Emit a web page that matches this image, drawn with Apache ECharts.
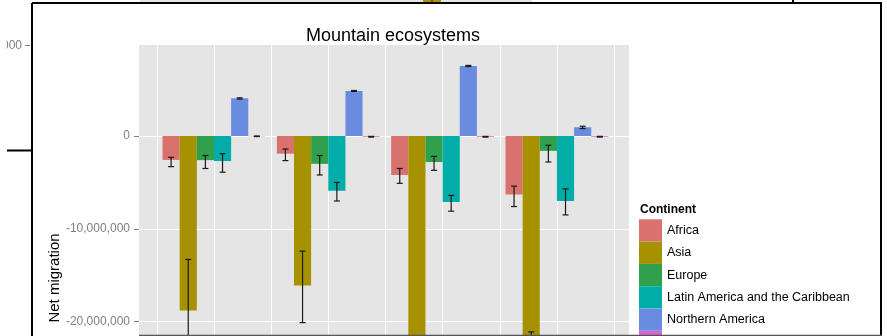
<!DOCTYPE html>
<html><head><meta charset="utf-8">
<script src="https://cdn.jsdelivr.net/npm/echarts@6/dist/echarts.min.js"></script>
<style>html,body{margin:0;padding:0;background:#fff}#c{width:887px;height:336px}</style>
</head><body><div id="c"></div>
<script>
// ---- data ----
const categories = ['1970-1980', '1980-1990', '1990-2000', '2000-2010'];
const continents = ['Africa', 'Asia', 'Europe', 'Latin America and the Caribbean', 'Northern America', 'Oceania'];
const colors = ['#D9726F', '#A69200', '#2FA04C', '#02ACA8', '#6A8CE0', '#D466CF'];

const africa   = [-2580000, -1900000, -4200000, -6300000];
const asia     = [-18800000, -16100000, -27000000, -25000000];
const europe   = [-2600000, -3000000, -2800000, -1600000];
const latam    = [-2700000, -5900000, -7100000, -7000000];
const namerica = [4060000, 4850000, 7540000, 940000];
const oceania  = [-30000, -80000, -80000, -80000];

// error bars: [low, high]
const africaErr   = [[-3300000, -2300000], [-2650000, -1400000], [-5100000, -3500000], [-7600000, -5400000]];
const asiaErr     = [[-24300000, -13300000], [-20100000, -12400000], [-31000000, -23000000], [-28900000, -21100000]];
const europeErr   = [[-3500000, -2100000], [-4200000, -2100000], [-3700000, -2200000], [-2800000, -1000000]];
const latamErr    = [[-3900000, -1900000], [-7000000, -5000000], [-8100000, -6400000], [-8500000, -5700000]];
const namericaErr = [[3980000, 4110000], [4800000, 4900000], [7480000, 7600000], [800000, 1050000]];
const oceaniaErr  = [[-60000, 0], [-120000, -40000], [-120000, -40000], [-120000, -40000]];

const yTicks = [-20000000, -10000000, 0];
const gridLines8 = ['', '', '', '', '', '', '', ''];

const values = [africa, asia, europe, latam, namerica, oceania];
const errs = [africaErr, asiaErr, europeErr, latamErr, namericaErr, oceaniaErr];

// ---- chart ----
const chart = echarts.init(document.getElementById('c'), null, {renderer: 'canvas'});
const FONT = '"Liberation Sans", Arial, sans-serif';
const yMin = -25000000, yMax = 9800000;
const gTop = 45, gHeight = 323.1;

function fmt(v) {
  if (v === 0) return '0';
  const s = Math.abs(v).toString().replace(/\B(?=(\d{3})+(?!\d))/g, ',');
  return (v < 0 ? '-' : '') + s;
}

const series = [];
continents.forEach((name, i) => {
  series.push({
    name: name, type: 'bar', xAxisIndex: 1, yAxisIndex: 1,
    data: values[i], barGap: '0%', barCategoryGap: '10%',
    itemStyle: {color: colors[i]}, z: 2
  });
});
continents.forEach((name, i) => {
  series.push({
    name: name + ' error', type: 'custom', xAxisIndex: 1, yAxisIndex: 1, z: 3,
    data: errs[i].map((e, k) => [k, e[0], e[1]]),
    encode: {x: 0, y: [1, 2]},
    renderItem: function (params, api) {
      const cat = api.value(0), lo = api.value(1), hi = api.value(2);
      const band = api.size([1, 0])[0];
      const bw = band * 0.9 / 6;
      const off = (i - 2.5) * bw;
      const pLo = api.coord([cat, lo]), pHi = api.coord([cat, hi]);
      const x = pLo[0] + off, hw = 3;
      const st = {stroke: '#1a1a1a', lineWidth: 1.2};
      return {type: 'group', children: [
        {type: 'line', shape: {x1: x, y1: pLo[1], x2: x, y2: pHi[1]}, style: st},
        {type: 'line', shape: {x1: x - hw, y1: pLo[1], x2: x + hw, y2: pLo[1]}, style: st},
        {type: 'line', shape: {x1: x - hw, y1: pHi[1], x2: x + hw, y2: pHi[1]}, style: st}
      ]};
    }
  });
});

const L = (x1, y1, x2, y2, c, w) => ({type: 'line', z: 100, shape: {x1, y1, x2, y2}, style: {stroke: c || '#000', lineWidth: w || 2}});

const option = {
  animation: false,
  backgroundColor: '#fff',
  title: [
    {text: 'Mountain ecosystems', left: 388, top: 22, textAlign: 'center',
     textStyle: {fontFamily: FONT, fontSize: 18, fontWeight: 'normal', color: '#000'}},
    {text: 'Continent', left: 640, top: 204,
     textStyle: {fontFamily: FONT, fontSize: 12, fontWeight: 'bold', color: '#000'}, padding: 0}
  ],
  legend: {
    data: continents, orient: 'vertical', left: 639, top: 219.3, height: 200,
    itemWidth: 23, itemHeight: 22.3, itemGap: 0, padding: 0, icon: 'rect',
    textStyle: {fontFamily: FONT, fontSize: 12.5, color: '#000'}
  },
  grid: [
    {left: 139, width: 490, top: gTop, height: gHeight, show: true, backgroundColor: '#E5E5E5', borderWidth: 0,
     outerBoundsMode: 'none', containLabel: false},
    {left: 156.8, width: 457.3, top: gTop, height: gHeight, outerBoundsMode: 'none', containLabel: false}
  ],
  xAxis: [
    {gridIndex: 0, type: 'value', min: 0, max: 1, show: false},
    {gridIndex: 1, type: 'category', data: categories, axisLine: {show: false}, axisTick: {show: false},
     axisLabel: {show: false}, splitLine: {show: false}},
    {gridIndex: 1, type: 'category', data: gridLines8, axisLine: {show: false}, axisTick: {show: false},
     axisLabel: {show: false}, splitLine: {show: true, interval: 0, lineStyle: {color: '#FFFFFF', width: 1}}}
  ],
  yAxis: [
    {gridIndex: 0, type: 'value', min: yMin, max: yMax, interval: 5000000,
     axisLine: {show: false},
     axisTick: {show: true, length: 5, customValues: yTicks, lineStyle: {color: '#7F7F7F'}},
     axisLabel: {customValues: yTicks, formatter: fmt, margin: 9, color: '#7F7F7F', fontSize: 12, fontFamily: FONT},
     splitLine: {show: true, lineStyle: {color: '#FFFFFF', width: 1}}},
    {gridIndex: 1, type: 'value', min: yMin, max: yMax, show: false, splitLine: {show: false}}
  ],
  series: series,
  graphic: [
    {type: 'text', z: 100, x: 55, y: 278, rotation: Math.PI / 2,
     style: {text: 'Net migration', fontFamily: FONT, fontSize: 15, fill: '#000', align: 'center', verticalAlign: 'middle'}},
    // frame of the surrounding screenshot
    {type: 'rect', z: 99, shape: {x: 140, y: 0, width: 392, height: 2}, style: {fill: '#E5E5E5'}},
    {type: 'rect', z: 99, shape: {x: 423, y: 0, width: 18, height: 2}, style: {fill: '#A69200'}},
    L(432, 0, 432, 2, '#222', 1),
    L(32, 3, 882, 3),
    L(32, 3, 32, 336),
    L(881, 3, 881, 336),
    L(7, 150.5, 32, 150.5),
    L(793, 0, 793, 3),
    L(139, 335.5, 882, 335.5, '#555', 1.5),
    L(25, 45.5, 30, 45.5, '#7F7F7F', 1),
    {type: 'text', z: 100, x: 22, y: 45.5,
     style: {text: '10,000,000', fontFamily: FONT, fontSize: 12, fill: '#7F7F7F', align: 'right', verticalAlign: 'middle'}},
    {type: 'rect', z: 101, shape: {x: 0, y: 30, width: 6.5, height: 30}, style: {fill: '#fff'}}
  ]
};
chart.setOption(option);
</script>
</body></html>
